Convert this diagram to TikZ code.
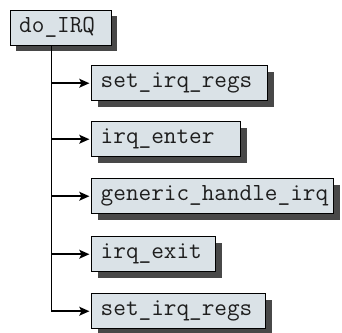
\documentclass[tikz,border=0pt]{standalone}
\usepackage{fontspec}
\usetikzlibrary{arrows.meta,shadows}
\definecolor{boxfill}{RGB}{218,226,231}
\definecolor{boxshadow}{RGB}{72,72,72}
\definecolor{boxtext}{RGB}{30,30,30}

\begin{document}
\begin{tikzpicture}[x=0.75pt,y=-0.75pt,
  fn/.style={draw=black, line width=1.1pt, fill=boxfill, anchor=north west,
    text width=#1, align=left, inner xsep=6.75pt, inner ysep=0pt,
    minimum height=26.25pt, font=\fontsize{18.4}{20}\selectfont\ttfamily, text=boxtext,
    drop shadow={shadow xshift=4.5pt, shadow yshift=-4.5pt, fill=boxshadow, opacity=1}},
  call/.style={line width=1.4pt, shorten >=1.2pt, -{Stealth[length=7.5pt,width=6.5pt,inset=1.5pt]}}]
  \useasboundingbox (0,0) rectangle (342,332);

  \node[fn=62.25pt] (doirq) at (9.5,9.5) {do\_IRQ};

  \node[fn=118.5pt] (setregs) at (91,65) {set\_irq\_regs};
  \node[fn=98.25pt] (enter) at (91,121) {irq\_enter};
  \node[fn=168pt] (generic) at (91,178) {\mbox{generic\_handle\_irq}};
  \node[fn=79.5pt] (exit) at (91,236) {irq\_exit};
  \node[fn=117pt] (resetregs) at (91,293) {set\_irq\_regs};

  % call tree
  \coordinate (trunk) at ([xshift=31.5pt]doirq.south west);
  \draw[call] (trunk) |- (resetregs.west);
  \foreach \callee in {setregs,enter,generic,exit}
    \draw[call] (trunk |- \callee.west) -- (\callee.west);
\end{tikzpicture}
\end{document}
